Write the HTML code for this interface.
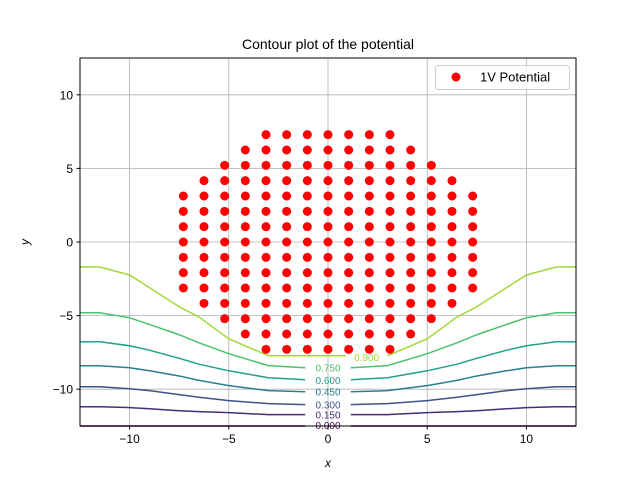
<!DOCTYPE html>
<html><head><meta charset="utf-8"><style>body{margin:0;background:#fff}svg{display:block;font-family:"Liberation Sans","DejaVu Sans",sans-serif}</style></head>
<body>
<svg id="c" width="640" height="480" viewBox="0 0 640 480" xmlns="http://www.w3.org/2000/svg">
<rect width="640" height="480" fill="#fff"/>
<text x="328" y="49" font-size="14" text-anchor="middle">Contour plot of the potential</text>
<g id="grid"></g><g id="contours"></g><g id="dots"></g><g id="axes"></g>
<rect x="80" y="58" width="496" height="368" fill="none" stroke="#000" stroke-width="1"/>
<text x="328" y="467" font-size="12" font-style="italic" text-anchor="middle">x</text>
<text x="0" y="0" font-size="12" font-style="italic" text-anchor="middle" transform="translate(29,242) rotate(-90)">y</text>
<g>
<rect x="435.5" y="65.5" width="134" height="24" rx="3" fill="#fff" fill-opacity="0.8" stroke="#ccc"/>
<circle cx="456" cy="77" r="4.5" fill="red"/>
<text x="480" y="81.5" font-size="13">1V Potential</text>
</g>
</svg>
<script>
const xTicks=[-10,-5,0,5,10];
const yTicks=[-10,-5,0,5,10];
const rowHalfWidths=[3,4,5,6,7,7,7,7,7,7,7,6,5,4,3];
const rowIndices=[7,6,5,4,3,2,1,0,-1,-2,-3,-4,-5,-6,-7];
const gridStep=25/24;
const levels=[0.9,0.75,0.6,0.45,0.3,0.15,0.0];
const levelColors=["#a0da39","#4ac16d","#1fa187","#277f8e","#3b528b","#472d7b","#440154"];
const contourX=[-12.5,-11.5,-10,-9,-7.5,-6.5,-5,-3,-1,0];
const c090=[-1.7,-1.7,-2.24,-3.1,-4.4,-5.1,-6.58,-7.73,-7.73,-7.73];
const c075=[-4.81,-4.81,-5.15,-5.6,-6.3,-6.85,-7.59,-8.4,-8.54,-8.54];
const c060=[-6.78,-6.78,-7.05,-7.35,-7.9,-8.3,-8.75,-9.22,-9.36,-9.36];
const c045=[-8.41,-8.41,-8.54,-8.75,-9.1,-9.4,-9.76,-10.1,-10.17,-10.17];
const c030=[-9.83,-9.83,-9.97,-10.1,-10.37,-10.55,-10.78,-10.98,-11.05,-11.05];
const c015=[-11.19,-11.19,-11.25,-11.33,-11.46,-11.52,-11.59,-11.73,-11.73,-11.73];
const c000=[-12.5,-12.5,-12.5,-12.5,-12.5,-12.5,-12.5,-12.5,-12.5,-12.5];
const contourY=[c090,c075,c060,c045,c030,c015,c000];
const NS="http://www.w3.org/2000/svg";
const X0=80,X1=576,Y0=426,Y1=58;
const sx=v=>X0+(v+12.5)/25*(X1-X0);
const sy=v=>Y0-(v+12.5)/25*(Y0-Y1);
function mk(t,a,p){const e=document.createElementNS(NS,t);for(const k in a)e.setAttribute(k,a[k]);p.appendChild(e);return e;}
const grid=document.getElementById('grid'),axes=document.getElementById('axes');
xTicks.forEach(v=>{const x=sx(v);
 const g=mk('line',{x1:x,x2:x,y1:Y1,y2:Y0,stroke:'#b0b0b0','stroke-width':0.8},grid);
 
 
 const t=mk('line',{x1:x,x2:x,y1:Y0,y2:Y0+3.5,stroke:'#000'},axes);
 
 
 const l=mk('text',{x:x,y:Y0+17,'font-size':12,'text-anchor':'middle'},axes);l.textContent=(v<0?'\u2212'+(-v):v);
 
 });
yTicks.forEach(v=>{const y=sy(v);
 const g=mk('line',{x1:X0,x2:X1,y1:y,y2:y,stroke:'#b0b0b0','stroke-width':0.8},grid);
 
 
 const t=mk('line',{x1:X0-3.5,x2:X0,y1:y,y2:y,stroke:'#000'},axes);
 
 
 const l=mk('text',{x:X0-7,y:y+4.5,'font-size':12,'text-anchor':'end'},axes);l.textContent=(v<0?'\u2212'+(-v):v);
 
 });
const cg=document.getElementById('contours');
levels.forEach((lv,i)=>{
 const ys=contourY[i];
 const left=contourX.map((x,k)=>[x,ys[k]]);
 const right=contourX.slice(0,-1).reverse().map((x,k)=>[-x,ys[ys.length-2-k]]);
 const pts=left.concat(right);
 const gapL=i===0?0.9:-1.15, gapR=i===0?3.0:1.15;
 const segA=pts.filter(p=>p[0]<gapL), segB=pts.filter(p=>p[0]>gapR);
 const yc=ys[ys.length-1];
 if(i!==6){segA.push([gapL,yc]);segB.unshift([gapR,i===0?ys[ys.length-3]:yc]);}
 else{segA.push([gapL,yc]);segB.unshift([gapR,yc]);}
 [segA,segB].forEach(seg=>{if(seg.length<2)return;
  const p=mk('polyline',{points:seg.map(q=>sx(q[0])+','+sy(q[1])).join(' '),fill:'none',stroke:levelColors[i],'stroke-width':1.5},cg);
  
  });
 const lx=i===0?sx(1.95):sx(0), ly=sy(yc)+(i===0?5:(i===6?3:4));
 const t=mk('text',{x:lx,y:ly,'font-size':10,'text-anchor':'middle',fill:levelColors[i]},cg);
 t.textContent=lv.toFixed(3);
 
 
});
const dg=document.getElementById('dots');
rowIndices.forEach((j,r)=>{const h=rowHalfWidths[r];
 for(let i=-h;i<=h;i++){const d=mk('circle',{cx:sx(i*gridStep),cy:sy(j*gridStep),r:4.5,fill:'red'},dg);
  
  }});
</script>
</body></html>
